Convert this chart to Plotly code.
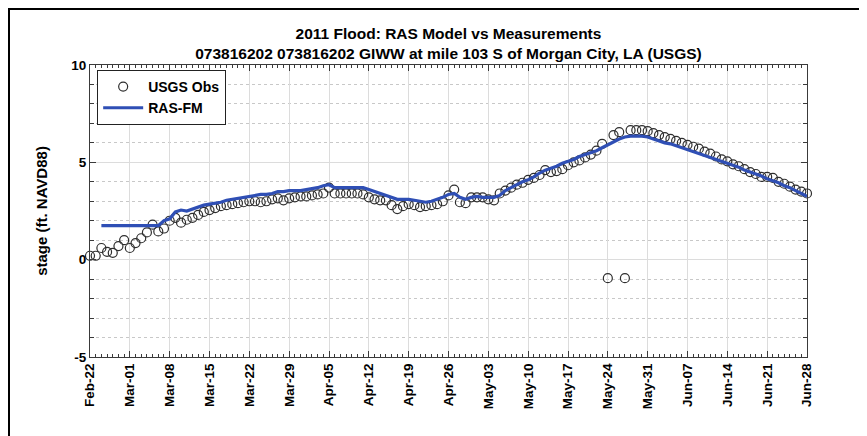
import pandas as pd
import plotly.graph_objects as go

# ============== data (daily stage, ft NAVD88)
obs_start = '2011-02-22'
obs_stage = [
    0.2, 0.2, 0.6, 0.4, 0.35, 0.7, 1.0, 0.6, 0.85, 1.1,          # Feb-22 .. Mar-03
    1.4, 1.8, 1.45, 1.6, 2.0, 2.15, 1.9, 2.05, 2.15, 2.3,        # .. Mar-13
    2.45, 2.55, 2.65, 2.75, 2.8, 2.85, 2.9, 2.95, 3.0, 3.0,      # .. Mar-23
    2.95, 3.0, 3.1, 3.15, 3.05, 3.15, 3.2, 3.25, 3.25, 3.3,      # .. Apr-02
    3.35, 3.4, 3.7, 3.4, 3.4, 3.4, 3.4, 3.4, 3.35, 3.2,          # .. Apr-12
    3.1, 3.05, 3.05, 2.8, 2.6, 2.75, 2.85, 2.8, 2.7, 2.75,       # .. Apr-22
    2.8, 2.85, 3.0, 3.3, 3.6, 2.95, 2.9, 3.2, 3.2, 3.2,          # .. May-02
    3.1, 3.05, 3.4, 3.55, 3.7, 3.85, 3.95, 4.1, 4.2, 4.35,       # .. May-12
    4.6, 4.5, 4.55, 4.65, 4.85, 5.0, 5.1, 5.25, 5.4, 5.6,        # .. May-22
    5.95, -0.95, 6.4, 6.55, -0.95, 6.65, 6.65, 6.65, 6.6, 6.5,   # .. Jun-01
    6.4, 6.3, 6.2, 6.1, 6.0, 5.9, 5.8, 5.7, 5.55, 5.45,          # .. Jun-11
    5.3, 5.15, 5.05, 4.9, 4.8, 4.65, 4.5, 4.4, 4.25, 4.25,       # .. Jun-21
    4.2, 4.0, 3.9, 3.75, 3.6, 3.5, 3.4,                          # .. Jun-28
]

model_start = '2011-02-24'
model_stage = [
    1.75, 1.75, 1.75, 1.75, 1.75, 1.75, 1.75, 1.75, 1.75, 1.75,  # Feb-24 .. Mar-05
    1.75, 2.0, 2.1, 2.45, 2.55, 2.5, 2.6, 2.7, 2.8, 2.85,        # .. Mar-15
    2.9, 2.95, 3.05, 3.1, 3.15, 3.2, 3.25, 3.3, 3.35, 3.35,      # .. Mar-25
    3.4, 3.5, 3.5, 3.55, 3.55, 3.55, 3.6, 3.65, 3.7, 3.8,        # .. Apr-04
    3.85, 3.7, 3.7, 3.7, 3.7, 3.7, 3.7, 3.6, 3.5, 3.4,           # .. Apr-14
    3.3, 3.2, 3.1, 3.1, 3.1, 3.05, 3.0, 2.95, 3.0, 3.1,          # .. Apr-24
    3.2, 3.35, 3.4, 3.2, 3.1, 3.2, 3.25, 3.2, 3.2, 3.2,          # .. May-04
    3.3, 3.55, 3.7, 3.85, 4.0, 4.1, 4.25, 4.45, 4.6, 4.7,        # .. May-14
    4.8, 4.95, 5.05, 5.15, 5.3, 5.4, 5.5, 5.6, 5.75, 5.9,        # .. May-24
    6.05, 6.2, 6.3, 6.35, 6.35, 6.35, 6.3, 6.2, 6.1, 6.0,        # .. Jun-03
    5.95, 5.85, 5.75, 5.65, 5.55, 5.45, 5.35, 5.25, 5.15, 5.05,  # .. Jun-13
    4.95, 4.85, 4.75, 4.6, 4.5, 4.4, 4.3, 4.15, 4.05, 3.95,      # .. Jun-23
    3.8, 3.7, 3.55, 3.4, 3.25,                                   # .. Jun-28
]

y_tickvals = [-5, 0, 5, 10]
y_ticktext = ['-5', '0', '5', '10']

obs_dates = pd.date_range(obs_start, periods=len(obs_stage))
model_dates = pd.date_range(model_start, periods=len(model_stage))

# ============== styles
FONT = 'Liberation Sans, Arial, sans-serif'
axis_col = '#3a3a3a'
grid_col = '#dcdcdc'
minor_grid_col = '#c8c8c8'
line_col = '#2f4fb5'
DAY = 86400000
W, H = 867, 436
ML, MR, MT, MB = 82, 68, 57, 87   # page has an 8px body margin
pw, ph = W - ML - MR, H - MT - MB

fig = go.Figure()
fig.add_trace(go.Scatter(x=obs_dates, y=obs_stage, mode='markers', name='USGS Obs', cliponaxis=False,
    marker=dict(symbol='circle-open', size=9, color='#2e2e2e', line=dict(width=1.2))))
fig.add_trace(go.Scatter(x=model_dates, y=model_stage, mode='lines', name='RAS-FM',
    line=dict(color=line_col, width=3.2)))

fig.update_xaxes(
    type='date', range=['2011-02-22', '2011-06-28'],
    tick0='2011-02-22', dtick=7 * DAY, tickformat='%b-%d', tickangle=-90,
    tickfont=dict(family=FONT, size=13.5, color='black', weight='bold'),
    showgrid=True, gridcolor=grid_col, gridwidth=1,
    ticks='inside', ticklen=6, tickcolor=axis_col,
    minor=dict(dtick=DAY, ticks='inside', ticklen=3, tickcolor=axis_col, showgrid=False),
    showline=True, linecolor=axis_col, linewidth=1, mirror='ticks', zeroline=False)

fig.update_yaxes(
    range=[-5, 10], tickvals=y_tickvals, ticktext=y_ticktext,
    tickfont=dict(family=FONT, size=13.5, color='black', weight='bold'),
    showgrid=True, gridcolor=grid_col, gridwidth=1,
    ticks='inside', ticklen=6, tickcolor=axis_col,
    minor=dict(dtick=1, tick0=0, ticks='inside', ticklen=4, tickcolor=axis_col,
               showgrid=True, gridcolor=minor_grid_col, griddash='dot', gridwidth=1),
    showline=True, linecolor=axis_col, linewidth=1, mirror='ticks', zeroline=False,
    title=dict(text='stage (ft. NAVD88)', standoff=20,
               font=dict(family=FONT, size=15, color='black', weight='bold')))

fig.update_layout(
    width=W, height=H,
    margin=dict(l=ML, r=MR, t=MT, b=MB, autoexpand=False),
    paper_bgcolor='white', plot_bgcolor='white',
    font=dict(family=FONT, color='black'),
    title=dict(text='2011 Flood: RAS Model vs Measurements<br>073816202 073816202 GIWW at mile 103 S of Morgan City, LA (USGS)',
               x=0.5, xref='paper', xanchor='center', y=1 - 31 / H, yref='container', yanchor='middle',
               font=dict(family=FONT, size=15.5, color='black', weight='bold')),
    legend=dict(x=0.01, y=0.983, xanchor='left', yanchor='top',
                bgcolor='white', bordercolor='#222222', borderwidth=1,
                font=dict(family=FONT, size=14, color='black', weight='bold'),
                itemwidth=40, tracegroupgap=0),
    showlegend=True,
    shapes=[dict(type='rect', xref='paper', yref='paper',
                 x0=(1 - ML) / pw, x1=(854 - ML) / pw, y0=-0.5, y1=(MT + ph - 1) / ph,
                 line=dict(color='black', width=2), fillcolor='rgba(0,0,0,0)', layer='above')],
)

fig.write_html('out.html')
